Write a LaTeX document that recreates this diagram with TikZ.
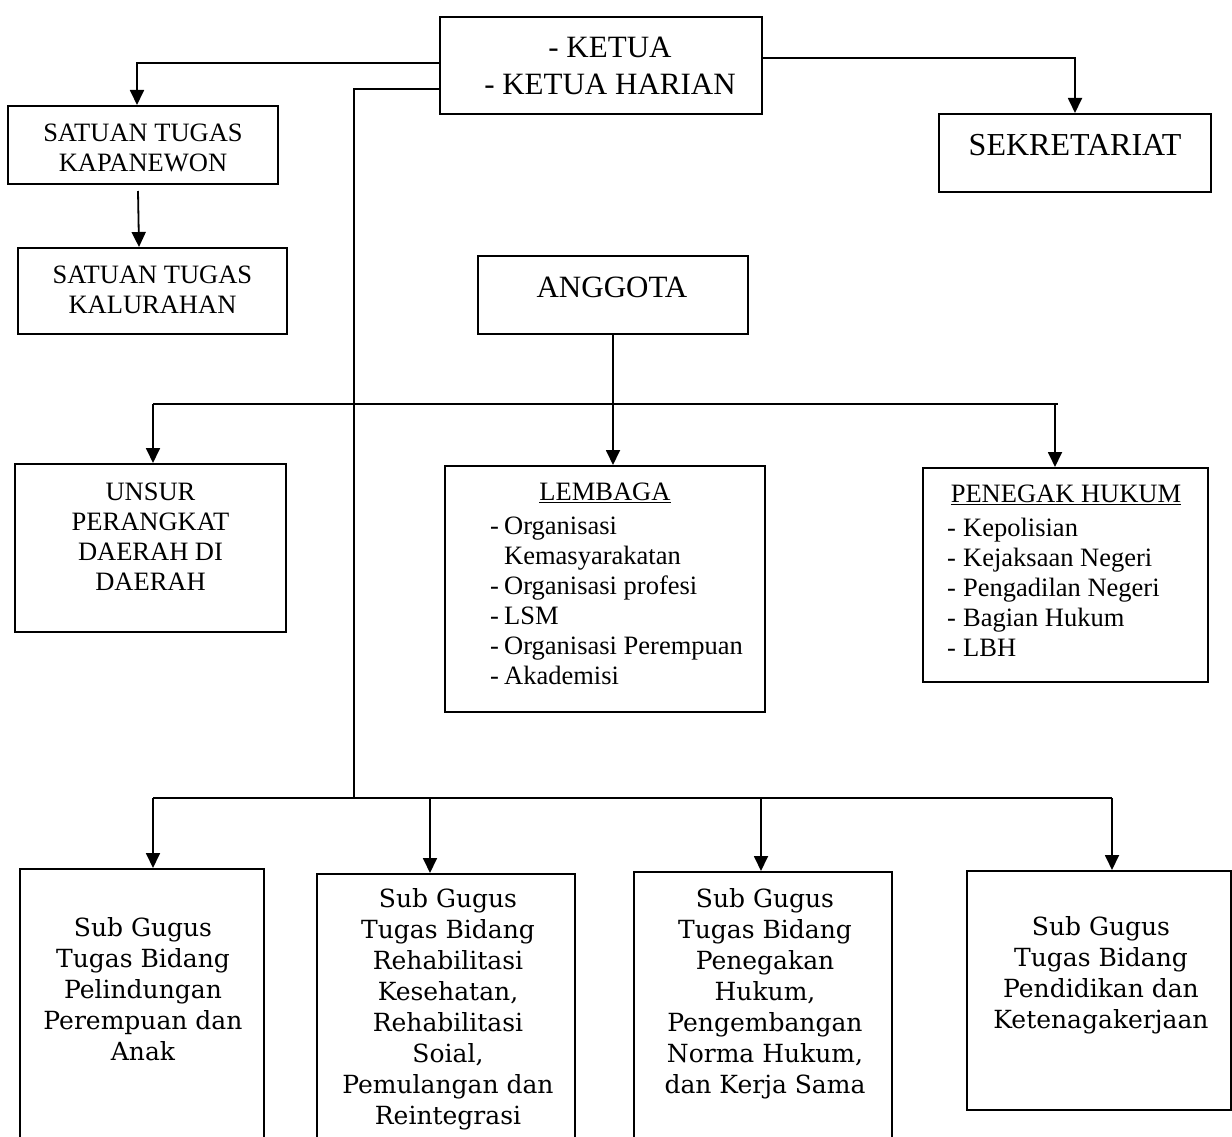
\documentclass[tikz,border=0pt]{standalone}
\usepackage{fontspec}
\setmainfont{Liberation Serif}
\newfontfamily\bookfont{DejaVu Serif}
\usetikzlibrary{arrows.meta}
\newcommand\dashitem[1]{\makebox[#1][l]{-}}
\begin{document}
\begin{tikzpicture}[x=1pt,y=-1pt,
 box/.style={draw, line width=2pt, inner sep=0pt},
 conn/.style={line width=1.8pt},
 arr/.style={conn, -{Triangle[length=15pt,width=14pt]}},
 tms/.style={inner sep=0pt, align=center, font=\fontsize{26.5}{30}\selectfont},
 tmsl/.style={inner sep=0pt, align=left, anchor=west, font=\fontsize{26.5}{30}\selectfont},
 bk/.style={inner sep=0pt, align=center, font=\bookfont\fontsize{25}{31}\selectfont},
]
\useasboundingbox (0,0) rectangle (1232,1137);
\clip (0,0) rectangle (1232,1137);
\fill[white] (0,0) rectangle (1232,1137);

% boxes
\node[box, minimum width=322pt, minimum height=97pt] (ketua) at (601,65.5) {};
\node[box, minimum width=272pt, minimum height=78pt] (sek) at (1075,153) {};
\node[box, minimum width=270pt, minimum height=78pt] (kap) at (143,145) {};
\node[box, minimum width=269pt, minimum height=86pt] (kal) at (152.5,291) {};
\node[box, minimum width=270pt, minimum height=78pt] (ang) at (613,295) {};
\node[box, minimum width=271pt, minimum height=168pt] (uns) at (150.5,548) {};
\node[box, minimum width=320pt, minimum height=246pt] (lem) at (605,589) {};
\node[box, minimum width=285pt, minimum height=214pt] (pen) at (1065.5,575) {};
\node[box, minimum width=244pt, minimum height=282pt] (b1) at (142,1010) {};
\node[box, minimum width=258pt, minimum height=276pt] (b2) at (446,1012) {};
\node[box, minimum width=258pt, minimum height=278pt] (b3) at (763,1011) {};
\node[box, minimum width=264pt, minimum height=239pt] (b4) at (1099,990.5) {};

% texts
\node[tms, font=\fontsize{31}{37}\selectfont] (tketua) at (610,65.5) {- KETUA\\- KETUA HARIAN};
\node[tms, font=\fontsize{32}{38}\selectfont] (tsek) at (1075,145) {SEKRETARIAT};
\node[tms] (tkap) at (143,148) {SATUAN TUGAS\\KAPANEWON};
\node[tms] (tkal) at (152.5,290) {SATUAN TUGAS\\KALURAHAN};
\node[tms, font=\fontsize{31}{37}\selectfont] (tang) at (612,287) {ANGGOTA};
\node[tms] (tuns) at (150.5,537) {UNSUR\\PERANGKAT\\DAERAH DI\\DAERAH};
\node[tms] (tlemh) at (605,493) {\underline{LEMBAGA}};
\node[tmsl] (tleml) at (490,601) {\dashitem{14pt}Organisasi\\\hspace*{14pt}Kemasyarakatan\\\dashitem{14pt}Organisasi profesi\\\dashitem{14pt}LSM\\\dashitem{14pt}Organisasi Perempuan\\\dashitem{14pt}Akademisi};
\node[tms] (tpenh) at (1066,495) {\underline{PENEGAK HUKUM}};
\node[tmsl] (tpenl) at (947,587.5) {\dashitem{16pt}Kepolisian\\\dashitem{16pt}Kejaksaan Negeri\\\dashitem{16pt}Pengadilan Negeri\\\dashitem{16pt}Bagian Hukum\\\dashitem{16pt}LBH};
\node[bk] (tb1) at (143,989.5) {Sub Gugus\\Tugas Bidang\\Pelindungan\\Perempuan dan\\Anak};
\node[bk] (tb2) at (448,1009) {Sub Gugus\\Tugas Bidang\\Rehabilitasi\\Kesehatan,\\Rehabilitasi\\Soial,\\Pemulangan dan\\Reintegrasi};
\node[bk] (tb3) at (765,993.5) {Sub Gugus\\Tugas Bidang\\Penegakan\\Hukum,\\Pengembangan\\Norma Hukum,\\dan Kerja Sama};
\node[bk] (tb4) at (1101,975.5) {Sub Gugus\\Tugas Bidang\\Pendidikan dan\\Ketenagakerjaan};

% connectors from KETUA
\draw[arr] ([yshift=7.5pt]ketua.east) -| (sek.north);
\draw[arr] ([yshift=2.5pt]ketua.west) -| ([xshift=-6pt]kap.north);
\draw[arr] ([xshift=-5pt,yshift=-6pt]kap.south) -- ([xshift=-13.5pt]kal.north);

% middle bus
\coordinate (bmL) at (153,404);
\coordinate (bmR) at (1058,404);
\draw[conn] (bmL) -- (bmR);
\draw[arr] (ang.south) -- (ang.south |- lem.north);
\draw[arr] (bmL) -- (bmL |- uns.north);
\draw[arr] ([xshift=-3pt]bmR) -- ([xshift=-3pt]bmR |- pen.north);

% trunk and bottom bus
\coordinate (bbT) at (354,798);
\coordinate (bbL) at (153,798);
\coordinate (bb2) at (430,798);
\coordinate (bb3) at (761,798);
\coordinate (bbR) at (1112,798);
\draw[conn] ([yshift=-23.5pt]ketua.west) -| (bbT);
\draw[conn] (bbL) -- (bbR);
\draw[arr] (bbL) -- (bbL |- b1.north);
\draw[arr] (bb2) -- (bb2 |- b2.north);
\draw[arr] (bb3) -- (bb3 |- b3.north);
\draw[arr] (bbR) -- (bbR |- b4.north);
\end{tikzpicture}
\end{document}
